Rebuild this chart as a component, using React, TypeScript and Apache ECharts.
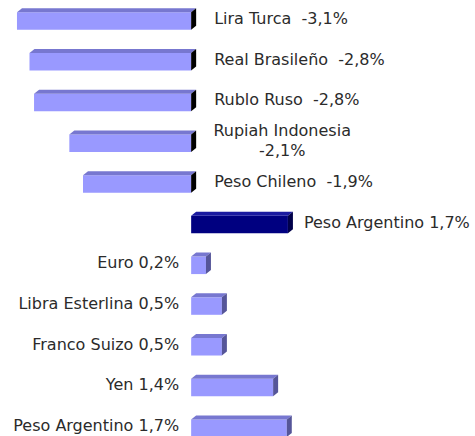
import React, { useEffect, useRef } from "react";
import * as echarts from "echarts";

const categories = [
  "Lira Turca",
  "Real Brasileño",
  "Rublo Ruso",
  "Rupiah Indonesia",
  "Peso Chileno",
  "Peso Argentino",
  "Euro",
  "Libra Esterlina",
  "Franco Suizo",
  "Yen",
  "Peso Argentino",
];
const values = [-3.06, -2.84, -2.76, -2.14, -1.9, 1.7, 0.26, 0.54, 0.54, 1.44, 1.68];
const labels = [
  "Lira Turca  -3,1%",
  "Real Brasileño  -2,8%",
  "Rublo Ruso  -2,8%",
  "Rupiah Indonesia\n-2,1%",
  "Peso Chileno  -1,9%",
  "Peso Argentino 1,7%",
  "Euro 0,2%",
  "Libra Esterlina 0,5%",
  "Franco Suizo 0,5%",
  "Yen 1,4%",
  "Peso Argentino 1,7%",
];
const highlighted = [false, false, false, false, false, true, false, false, false, false, false];

const FONT = "'DejaVu Sans', Verdana, sans-serif";

export default function App() {
  const ref = useRef<HTMLDivElement>(null);
  useEffect(() => {
    document.body.style.margin = "0";
    if (!ref.current) return;
    const chart = echarts.init(ref.current, undefined, { renderer: "svg" });
    const data = values.map((v, i) => [v, i, categories[i]]);
    const dx = 5;
    const dy = 4;
    const h = 17.5;
    chart.setOption({
      animation: false,
      backgroundColor: "#ffffff",
      grid: { left: 9, right: 22, top: 0, bottom: 0, containLabel: false },
      xAxis: { type: "value", min: -3.2, max: 4.6, show: false },
      yAxis: { type: "value", min: -0.479, max: 10.228, inverse: true, show: false },
      series: [
        {
          type: "custom",
          data,
          clip: false,
          renderItem: (params: any, api: any) => {
            const v = api.value(0);
            const i = api.value(1);
            const idx = params.dataIndex;
            const p0 = api.coord([0, i]);
            const p1 = api.coord([v, i]);
            const left = Math.min(p0[0], p1[0]);
            const right = Math.max(p0[0], p1[0]);
            const yc = p0[1];
            const top = yc - h / 2 + 1.5;
            const bottom = yc + h / 2 + 1.5;
            const hi = highlighted[idx];
            const front = hi ? "#000080" : "#9999ff";
            const topC = hi ? "#1a1aa0" : "#7777d0";
            const side = hi ? "#00004a" : v < 0 ? "#000000" : "#555599";
            const text = labels[idx];
            let tx: number;
            let align: string;
            if (hi) {
              tx = right + dx + 11;
              align = "left";
            } else if (v < 0) {
              if (text.indexOf("\n") >= 0) {
                tx = p0[0] + 91;
                align = "center";
              } else {
                tx = p0[0] + 23;
                align = "left";
              }
            } else {
              tx = p0[0] - 12;
              align = "right";
            }
            return {
              type: "group",
              children: [
                {
                  type: "rect",
                  shape: { x: left, y: top, width: right - left, height: bottom - top },
                  style: { fill: front },
                },
                {
                  type: "polygon",
                  shape: {
                    points: [
                      [left, top],
                      [left + dx, top - dy],
                      [right + dx, top - dy],
                      [right, top],
                    ],
                  },
                  style: { fill: topC },
                },
                {
                  type: "polygon",
                  shape: {
                    points: [
                      [right, top],
                      [right + dx, top - dy],
                      [right + dx, bottom - dy],
                      [right, bottom],
                    ],
                  },
                  style: { fill: side },
                },
                {
                  type: "text",
                  x: tx,
                  y: yc - 1,
                  style: {
                    text,
                    fill: "#2b2b2b",
                    fontFamily: FONT,
                    fontSize: 16,
                    align,
                    verticalAlign: "middle",
                    lineHeight: 20,
                  },
                },
              ],
            };
          },
        },
      ],
    });
    return () => chart.dispose();
  }, []);
  return <div ref={ref} style={{ width: 475, height: 436 }} />;
}
